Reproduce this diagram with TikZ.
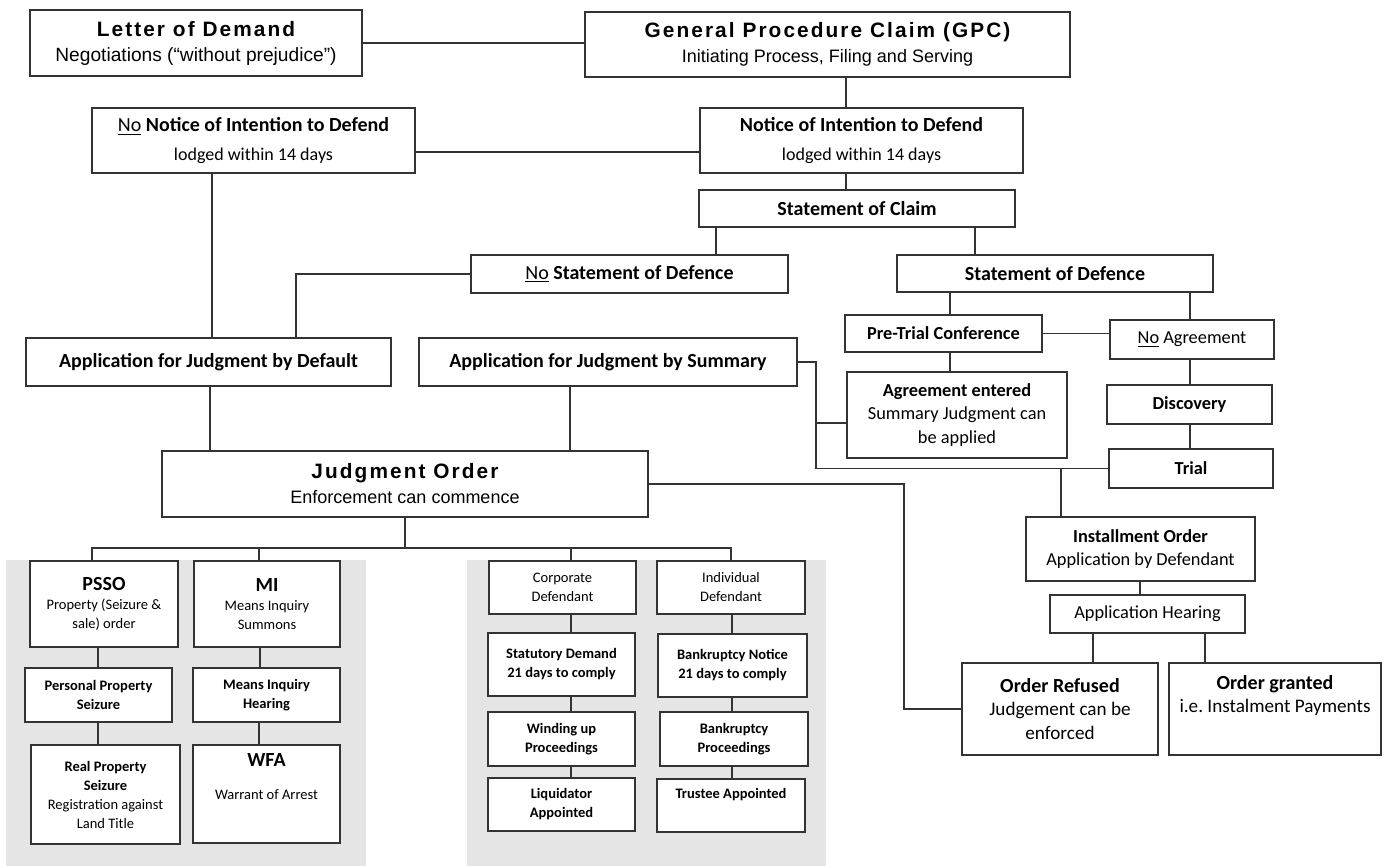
\documentclass[tikz,border=0pt]{standalone}
\usepackage{fontspec}
\setmainfont{Carlito}
\newfontfamily\arialfont{Liberation Sans}
\newfontfamily\spacedfont[LetterSpace=10]{Liberation Sans}
\newcommand{\bigtitle}[1]{{\spacedfont\bfseries\fontsize{12.5}{15}\selectfont #1}}
\newcommand{\subline}[1]{{\arialfont\fontsize{10.8}{14}\selectfont #1}}
\newcommand{\bighead}[1]{{\bfseries\fontsize{12}{14}\selectfont #1}}

\tikzset{
  box/.style={draw=black!80, line width=0.8pt, fill=white, align=center, inner sep=0pt,
    font=\fontsize{12}{15}\selectfont},
  sz/.style 2 args={minimum width=#1*0.6pt, minimum height=#2*0.6pt},
  side/.style={font=\fontsize{11}{14}\selectfont},
  small/.style={font=\fontsize{8.7}{11.4}\selectfont},
  smallb/.style={font=\fontsize{8.7}{11.4}\selectfont\bfseries},
  link/.style={draw=black!80, line width=0.8pt},
  panel/.style={fill=black!10, draw=none}
}

\begin{document}
\begin{tikzpicture}[x=0.6pt, y=-0.6pt]
  \useasboundingbox (0,0) rectangle (1386,866);
  % Panels
  \fill[panel] (6,560) rectangle (366,866);
  \fill[panel] (467,560) rectangle (826,866);

  % Nodes
  \node[box, sz={332}{66}] (lod) at (196,43) {\bigtitle{Letter of Demand}\\{\arialfont\fontsize{11.5}{14}\selectfont Negotiations (“without prejudice”)}};
  \node[box, sz={485}{65}] (gpc) at (827.5,44.5) {\bigtitle{General Procedure Claim (GPC)}\\\subline{Initiating Process, Filing and Serving}};
  \node[box, sz={323}{65}] (nonote) at (253.5,140.5) {\underline{No} \textbf{Notice of Intention to Defend}\\[2pt]{\fontsize{10.8}{13}\selectfont lodged within 14 days}};
  \node[box, sz={323}{65}] (note) at (861.5,140.5) {\textbf{Notice of Intention to Defend}\\[2pt]{\fontsize{10.8}{13}\selectfont lodged within 14 days}};
  \node[box, sz={316}{37}, font=\fontsize{12}{15}\selectfont\bfseries] (soc) at (857,208.5) {Statement of Claim};
  \node[box, sz={317}{38}] (nosod) at (629.5,274) {\underline{No} \textbf{Statement of Defence}};
  \node[box, sz={316}{37}, font=\fontsize{12}{15}\selectfont\bfseries] (sod) at (1055,273.5) {Statement of Defence};
  \node[box, sz={365}{48}, font=\fontsize{12}{15}\selectfont\bfseries] (appdef) at (208.5,362) {Application for Judgment by Default};
  \node[box, sz={378}{48}, font=\fontsize{12}{15}\selectfont\bfseries] (appsum) at (608,362) {Application for Judgment by Summary};
  \node[box, sz={486}{66}] (jo) at (405,484) {\bigtitle{Judgment Order}\\\subline{Enforcement can commence}};

  % right side
  \node[box, side, sz={197}{37}] (pre) at (943.5,333.5) {\textbf{Pre-Trial Conference}};
  \node[box, side, sz={164}{39}] (noagr) at (1192,339.5) {\underline{No} Agreement};
  \node[box, side, sz={220}{86}] (agr) at (957,415) {\textbf{Agreement entered}\\Summary Judgment can\\be applied};
  \node[box, side, sz={165}{39}] (disc) at (1189.5,404.5) {\textbf{Discovery}};
  \node[box, side, sz={164}{39}] (trial) at (1191,468.5) {\textbf{Trial}};
  \node[box, side, sz={229}{64}] (inst) at (1140.5,549) {\textbf{Installment Order}\\Application by Defendant};
  \node[box, side, sz={195}{38}] (hear) at (1147.5,614) {Application Hearing};
  \node[box, sz={196}{92}, font=\fontsize{11.5}{14}\selectfont] (refused) at (1060,709) {\bighead{Order Refused}\\Judgement can be\\enforced};
  \node[box, sz={212}{92}, font=\fontsize{11.5}{14}\selectfont] (granted) at (1275,709) {\bighead{Order granted}\\i.e.\ Instalment Payments\\\strut};

  % enforcement, left panel
  \node[box, small, sz={148}{86}] (psso) at (104,604) {\bighead{PSSO}\\Property (Seizure \&\\sale) order};
  \node[box, small, sz={146}{86}] (mi) at (267,604) {\bighead{MI}\\Means Inquiry\\Summons};
  \node[box, smallb, sz={147}{54}] (pps) at (98.5,695) {Personal Property\\Seizure};
  \node[box, smallb, sz={147}{54}] (mih) at (266.5,695) {Means Inquiry\\Hearing};
  \node[box, small, sz={149}{99}] (rps) at (105.5,794.5) {\textbf{Real Property}\\\textbf{Seizure}\\Registration against\\Land Title};
  \node[box, small, sz={147}{98}] (wfa) at (266.5,794) {\bighead{WFA}\\[8pt]Warrant of Arrest\\[6pt]\strut};

  % enforcement, right panel
  \node[box, small, sz={147}{53}] (corp) at (562.5,587.5) {Corporate\\Defendant};
  \node[box, small, sz={148}{53}] (indiv) at (731,587.5) {Individual\\Defendant};
  \node[box, smallb, sz={147}{63}] (statd) at (561.5,664.5) {Statutory Demand\\21 days to comply};
  \node[box, smallb, sz={149}{63}] (bankn) at (732.5,665.5) {Bankruptcy Notice\\21 days to comply};
  \node[box, smallb, sz={147}{54}] (wind) at (561.5,739) {Winding up\\Proceedings};
  \node[box, smallb, sz={148}{54}] (bankp) at (734,739) {Bankruptcy\\Proceedings};
  \node[box, smallb, sz={147}{53}] (liq) at (561.5,804.5) {Liquidator\\Appointed};
  \node[box, smallb, sz={148}{53}] (trust) at (731,805.5) {Trustee Appointed\\\strut};

  % Edges
  \foreach \a/\b/\x in {gpc/note/846, note/soc/846, soc/nosod/716, soc/sod/975,
      nonote/appdef/212, appdef/jo/210, appsum/jo/570, sod/pre/950, sod/noagr/1190,
      pre/agr/950, noagr/disc/1190, disc/trial/1190, inst/hear/1140,
      hear/refused/1093, hear/granted/1205, psso/pps/98, pps/rps/98,
      mi/mih/260, mih/wfa/259, corp/statd/571, statd/wind/571, wind/liq/571,
      indiv/bankn/732, bankn/bankp/732, bankp/trust/732}
    \draw[link] (\a.south -| \x,0) -- (\b.north -| \x,0);
  \draw[link] (lod.east) -- (lod.east -| gpc.west);
  \draw[link] (nonote.east |- 0,152) -- (note.west |- 0,152);
  \draw[link] (nosod.west) -| (appdef.north -| 296,0);
  \draw[link] (appsum.east) -| (816,0 |- trial.west) -- (trial.west);
  \draw[link] (816,423) -- (agr.west |- 0,423);
  \draw[link] (trial.west -| 1061,0) -- (inst.north -| 1061,0);
  \draw[link] (pre.east) -- (pre.east -| noagr.west);
  \draw[link] (jo.east) -| (904,0 |- refused.west) -- (refused.west);
  % bus to enforcement
  \draw[link] (jo.south) -- (jo.south |- 0,548);
  \draw[link] (psso.north -| 92,0) |- (indiv.north |- 0,548) -- (indiv.north);
  \draw[link] (mi.north -| 259,0) -- (259,548);
  \draw[link] (corp.north -| 571,0) -- (571,548);
\end{tikzpicture}
\end{document}
